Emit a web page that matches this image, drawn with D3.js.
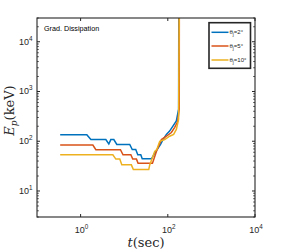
<!DOCTYPE html>
<html>
<head>
<meta charset="utf-8">
<script src="https://cdn.jsdelivr.net/npm/d3@7"></script>
<style>
  body { margin: 0; background: #fff; }
  svg text { font-family: "Liberation Sans", Arial, sans-serif; fill: #262626; }
  .tex { font-family: "DejaVu Serif", "Liberation Serif", serif; }
</style>
</head>
<body>
<div id="chart"></div>
<script>
// series: [t (sec), Ep (keV)]
const blue = [[0.34,135],[1.39,135],[1.72,108],[3.79,108],[4.44,88],[4.93,108],[5.78,108],[6.77,86],
  [13.4,86],[15.3,68],[18.4,68],[20.5,53.5],[24.0,53.5],[25.9,44.4],[42.2,44.4],[52.8,62],[67.7,86],
  [77.6,108],[92.9,137],[110,160],[131,202],[157,256],[177,444],[179,1e5]];
const red = [[0.34,84],[1.91,84],[2.24,67.7],[8.2,67.7],[9.4,53.5],[14.2,53.5],[15.7,43.7],[19.1,43.7],
  [20.8,36],[44.5,36],[54.8,62.5],[71.4,108],[92.9,126],[121,150],[144,190],[169,252],[183,444],[184,1e5]];
const yellow = [[0.34,53.5],[5.49,53.5],[6.43,43.7],[7.92,43.7],[8.81,33.5],[14.6,33.5],[16.2,27.1],
  [36.6,27.1],[38.5,33.5],[50.1,62.5],[55.7,67.7],[65.3,100],[84.9,108],[110,126],[136,137],[157,173],
  [177,277],[184,1e5]];
const seriesNames = ["2", "5", "10"];
const seriesColors = ["#0072BD", "#D95319", "#EDB120"];
const xTicks = [1, 100, 10000];
const xTickExp = ["0", "2", "4"];
const yTicks = [10, 100, 1000, 10000];
const yTickExp = ["1", "2", "3", "4"];

const width = 282, height = 252;
const mLeft = 37, mRight = 255, mTop = 18, mBottom = 217;

const svg = d3.select("#chart").append("svg")
  .attr("width", width).attr("height", height);

const x = d3.scaleLog().domain([0.1, 1e4]).range([mLeft, mRight]);
const y = d3.scaleLog().domain([3, 3e4]).range([mBottom, mTop]);

svg.append("clipPath").attr("id", "clip")
  .append("rect").attr("x", mLeft).attr("y", mTop)
  .attr("width", mRight - mLeft).attr("height", mBottom - mTop);

const line = d3.line().x(d => x(d[0])).y(d => y(d[1]));

[blue, red, yellow].forEach((s, i) => {
  svg.append("path")
    .attr("d", line(s))
    .attr("fill", "none")
    .attr("stroke", seriesColors[i])
    .attr("stroke-width", 1.5)
    .attr("clip-path", "url(#clip)");
});

// axes box
const axisColor = "#262626";
svg.append("rect")
  .attr("x", mLeft).attr("y", mTop)
  .attr("width", mRight - mLeft).attr("height", mBottom - mTop)
  .attr("fill", "none").attr("stroke", axisColor).attr("stroke-width", 1.1);

// x ticks (bottom & top, inward)
xTicks.forEach((v, i) => {
  const px = x(v);
  svg.append("line").attr("x1", px).attr("x2", px).attr("y1", mBottom).attr("y2", mBottom - 3)
    .attr("stroke", axisColor);
  svg.append("line").attr("x1", px).attr("x2", px).attr("y1", mTop).attr("y2", mTop + 3)
    .attr("stroke", axisColor);
  const t = svg.append("text").attr("x", px + 1).attr("y", 233)
    .attr("text-anchor", "middle").style("font-size", "9px");
  t.append("tspan").text("10");
  t.append("tspan").attr("dy", -4).style("font-size", "6.3px").text(xTickExp[i]);
});

// y minor ticks
const minor = [];
for (let e = 0; e <= 4; e++) {
  for (let k = 2; k <= 9; k++) {
    const v = k * Math.pow(10, e);
    if (v >= 3 && v <= 3e4) minor.push(v);
  }
}
minor.forEach(v => {
  const py = y(v);
  svg.append("line").attr("x1", mLeft).attr("x2", mLeft + 1.8).attr("y1", py).attr("y2", py)
    .attr("stroke", axisColor).attr("stroke-width", 0.8);
  svg.append("line").attr("x1", mRight).attr("x2", mRight - 1.8).attr("y1", py).attr("y2", py)
    .attr("stroke", axisColor).attr("stroke-width", 0.8);
});

// y major ticks
yTicks.forEach((v, i) => {
  const py = y(v);
  svg.append("line").attr("x1", mLeft).attr("x2", mLeft + 3).attr("y1", py).attr("y2", py)
    .attr("stroke", axisColor);
  svg.append("line").attr("x1", mRight).attr("x2", mRight - 3).attr("y1", py).attr("y2", py)
    .attr("stroke", axisColor);
  const t = svg.append("text").attr("x", 19).attr("y", py + 3);
  t.style("font-size", "9px");
  t.append("tspan").text("10");
  t.append("tspan").attr("dy", -4).style("font-size", "6.3px").text(yTickExp[i]);
});

// axis labels
const xl = svg.append("text").attr("class", "tex")
  .attr("x", (mLeft + mRight) / 2).attr("y", 247)
  .attr("text-anchor", "middle").style("font-size", "13px");
xl.append("tspan").style("font-style", "italic").text("t");
xl.append("tspan").text("(sec)");

const yl = svg.append("text").attr("class", "tex")
  .attr("transform", `translate(14,${(mTop + mBottom) / 2 - 7}) rotate(-90)`)
  .attr("text-anchor", "middle").style("font-size", "13px");
yl.append("tspan").style("font-style", "italic").text("E");
yl.append("tspan").attr("dy", 3).style("font-style", "italic").style("font-size", "9px").text("p");
yl.append("tspan").attr("dy", -3).text("(keV)");

// annotation
svg.append("text").attr("x", 44).attr("y", 31)
  .style("font-size", "7.2px").style("fill", "#000").text("Grad. Dissipation");

// legend
const lg = svg.append("g");
lg.append("rect").attr("x", 209).attr("y", 22.7).attr("width", 41.5).attr("height", 45.6)
  .attr("fill", "#fff").attr("stroke", "#262626").attr("stroke-width", 1.6);
const legendY = [32.3, 46, 60];
seriesNames.forEach((n, i) => {
  lg.append("line").attr("x1", 211.5).attr("x2", 228.5)
    .attr("y1", legendY[i]).attr("y2", legendY[i])
    .attr("stroke", seriesColors[i]).attr("stroke-width", 1.5);
  const t = lg.append("text").attr("x", 229.5).attr("y", legendY[i] + 2)
    .style("font-size", "6px");
  t.append("tspan").text("θ");
  t.append("tspan").attr("dy", 2).style("font-size", "4.5px").text("j");
  t.append("tspan").attr("dy", -2).text("=" + n + "°");
});
</script>
</body>
</html>
